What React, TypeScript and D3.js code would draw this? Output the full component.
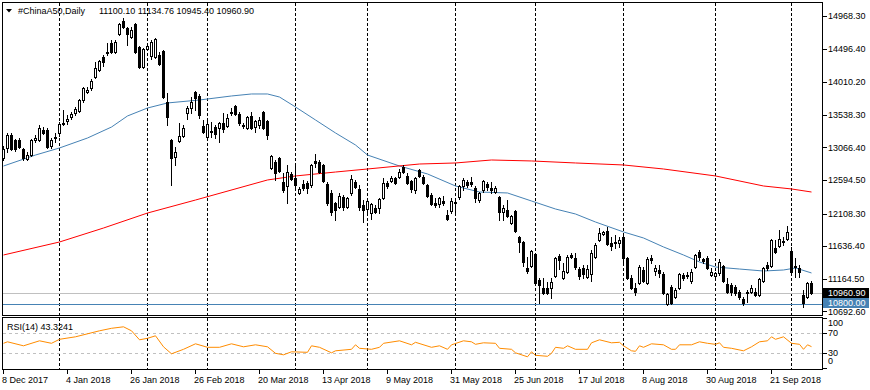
import React, { useEffect, useRef } from "react";
import * as d3 from "d3";

const WIDTH = 870;
const HEIGHT = 390;
const FONT = "'Liberation Sans', Arial, sans-serif";

const symbolTitle = "#ChinaA50,Daily";
const lastQuote = "11100.10 11134.76 10945.40 10960.90";
const rsiTitle = "RSI(14) 43.3241";

// daily bars: open, high, low, close
const candles: number[][] = [
  [12913, 13087, 12884, 13043], [13058, 13275, 13000, 13246], [13246, 13275, 13029, 13043], [13173, 13188, 13014, 13043],
  [13173, 13202, 13058, 13072], [13043, 13058, 12884, 12913], [12899, 13000, 12884, 12956], [12956, 13188, 12942, 13173],
  [13173, 13246, 13144, 13202], [13173, 13390, 13159, 13347], [13318, 13361, 13260, 13275], [13318, 13347, 13058, 13072],
  [13087, 13202, 13058, 13173], [13217, 13275, 13144, 13202], [13275, 13434, 13231, 13405], [13405, 13607, 13390, 13419],
  [13448, 13535, 13405, 13477], [13506, 13578, 13477, 13549], [13564, 13651, 13535, 13622], [13593, 13766, 13578, 13752],
  [13752, 13940, 13723, 13926], [13868, 13940, 13853, 13897], [13926, 14056, 13897, 14027], [14086, 14302, 14070, 14215],
  [14186, 14331, 14171, 14316], [14374, 14403, 14244, 14302], [14432, 14576, 14403, 14446], [14576, 14620, 14432, 14446],
  [14446, 14620, 14432, 14591], [14707, 14866, 14692, 14851], [14895, 14938, 14793, 14808], [14793, 14808, 14548, 14707],
  [14663, 14808, 14649, 14765], [14851, 14866, 14432, 14446], [14519, 14533, 14215, 14229], [14229, 14504, 14215, 14490],
  [14490, 14548, 14475, 14533], [14388, 14620, 14345, 14591], [14374, 14649, 14359, 14634], [14403, 14446, 14258, 14273],
  [14461, 14475, 13781, 13795], [13723, 13853, 13390, 13506], [13173, 13188, 12522, 12913], [12927, 13072, 12812, 13000],
  [13159, 13419, 13144, 13231], [13231, 13390, 13217, 13347], [13564, 13665, 13477, 13636], [13636, 13795, 13564, 13723],
  [13868, 13882, 13607, 13781], [13810, 13839, 13492, 13535], [13376, 13463, 13275, 13289], [13217, 13463, 13202, 13405],
  [13304, 13434, 13217, 13289], [13361, 13390, 13202, 13260], [13347, 13434, 13144, 13419], [13419, 13564, 13289, 13332],
  [13376, 13549, 13361, 13492], [13564, 13636, 13535, 13578], [13665, 13680, 13535, 13549], [13549, 13578, 13390, 13419],
  [13390, 13419, 13347, 13376], [13347, 13521, 13332, 13506], [13521, 13578, 13332, 13347], [13361, 13463, 13289, 13448],
  [13390, 13506, 13347, 13463], [13578, 13593, 13332, 13347], [13448, 13463, 13188, 13246], [12768, 12956, 12754, 12942],
  [12855, 12884, 12595, 12696], [12913, 12927, 12710, 12725], [12566, 12696, 12421, 12450], [12508, 12812, 12262, 12710],
  [12682, 12710, 12595, 12609], [12624, 12812, 12479, 12522], [12407, 12493, 12392, 12465], [12537, 12595, 12450, 12479],
  [12551, 12580, 12407, 12479], [12522, 12826, 12493, 12812], [12870, 12971, 12783, 12841], [12855, 12884, 12696, 12710],
  [12812, 12826, 12566, 12580], [12537, 12566, 12233, 12262], [12407, 12450, 12088, 12132], [12262, 12276, 12016, 12161],
  [12204, 12407, 12190, 12363], [12349, 12378, 12161, 12204], [12204, 12349, 12190, 12334], [12407, 12667, 12378, 12609],
  [12566, 12595, 12479, 12493], [12465, 12522, 12161, 12204], [12233, 12305, 11987, 12161], [12175, 12320, 12117, 12291],
  [12117, 12262, 12031, 12248], [12190, 12233, 12117, 12132], [12190, 12334, 12117, 12320], [12334, 12624, 12320, 12551],
  [12551, 12580, 12479, 12508], [12580, 12653, 12566, 12624], [12624, 12638, 12537, 12551], [12638, 12754, 12624, 12710],
  [12783, 12812, 12696, 12710], [12653, 12696, 12537, 12551], [12580, 12595, 12421, 12465], [12450, 12638, 12407, 12624],
  [12739, 12754, 12638, 12653], [12638, 12667, 12537, 12551], [12522, 12537, 12349, 12363], [12378, 12407, 12233, 12248],
  [12262, 12334, 12204, 12233], [12248, 12349, 12204, 12334], [12291, 12363, 12233, 12262], [12088, 12161, 12016, 12031],
  [12146, 12334, 12117, 12291], [12262, 12334, 12132, 12276], [12349, 12522, 12320, 12508], [12508, 12624, 12450, 12595],
  [12566, 12595, 12493, 12522], [12566, 12638, 12508, 12537], [12479, 12508, 12276, 12334], [12305, 12421, 12276, 12407],
  [12450, 12595, 12421, 12580], [12537, 12566, 12450, 12493], [12479, 12566, 12407, 12450], [12421, 12508, 12407, 12479],
  [12349, 12363, 12016, 12132], [12132, 12233, 12016, 12190], [12161, 12305, 12060, 12074], [11973, 12088, 11958, 12074],
  [12146, 12161, 11843, 11857], [11770, 11785, 11553, 11698], [11698, 11712, 11351, 11409], [11322, 11481, 11250, 11278],
  [11351, 11582, 11336, 11568], [11524, 11539, 11090, 11105], [11148, 11177, 10816, 11076], [11032, 11177, 10946, 10960],
  [11032, 11119, 10946, 10960], [11032, 11177, 10888, 11119], [11206, 11481, 11192, 11466], [11495, 11524, 11307, 11438],
  [11177, 11394, 11163, 11278], [11264, 11510, 11250, 11481], [11510, 11539, 11466, 11481], [11466, 11539, 11307, 11336],
  [11307, 11336, 11163, 11206], [11322, 11365, 11177, 11235], [11192, 11365, 11177, 11307], [11235, 11582, 11134, 11539],
  [11481, 11683, 11466, 11655], [11727, 11900, 11712, 11828], [11814, 11857, 11799, 11843], [11857, 11915, 11655, 11669],
  [11683, 11770, 11582, 11640], [11698, 11799, 11611, 11683], [11683, 11770, 11626, 11727], [11770, 11828, 11409, 11466],
  [11466, 11481, 11163, 11177], [11177, 11221, 11018, 11032], [11032, 11105, 10931, 10975], [11105, 11365, 11090, 11336],
  [11293, 11336, 11119, 11134], [11105, 11481, 11090, 11452], [11466, 11510, 11394, 11438], [11278, 11365, 11221, 11322],
  [11293, 11365, 11192, 11250], [11235, 11264, 10946, 10960], [10801, 10960, 10787, 10946], [11047, 11076, 10801, 10816],
  [10902, 11032, 10888, 11004], [11032, 11250, 11018, 11235], [11221, 11250, 11148, 11177], [11206, 11264, 11177, 11221],
  [11134, 11307, 11105, 11264], [11336, 11524, 11322, 11510], [11553, 11582, 11438, 11481], [11452, 11466, 11394, 11423],
  [11466, 11495, 11307, 11322], [11221, 11322, 11206, 11264], [11206, 11264, 11192, 11250], [11250, 11452, 11221, 11409],
  [11351, 11365, 11119, 11134], [11090, 11177, 10960, 10975], [11076, 11105, 10931, 10975], [11047, 11076, 10931, 10960],
  [10975, 11004, 10873, 10902], [10873, 10902, 10787, 10816], [10975, 11004, 10830, 10960], [10975, 11076, 10960, 11032],
  [10975, 11032, 10917, 10931], [10931, 11177, 10917, 11163], [11134, 11336, 11119, 11322], [11365, 11409, 11293, 11322],
  [11351, 11741, 11336, 11727], [11611, 11727, 11539, 11553], [11640, 11871, 11626, 11741], [11712, 11770, 11655, 11698],
  [11741, 11929, 11727, 11843], [11568, 11626, 11250, 11264], [11351, 11466, 11192, 11336], [11322, 11365, 11192, 11264],
  [10931, 11004, 10758, 10816], [10902, 11119, 10888, 11105], [11100.1, 11134.76, 10945.4, 10960.9],
];

// bottom time scale (bar index -> label)
const dateBars = [0, 16, 32, 48, 64, 80, 96, 112, 128, 144, 160, 176, 192];
const dateTexts = [
  "8 Dec 2017", "4 Jan 2018", "26 Jan 2018", "26 Feb 2018", "20 Mar 2018", "13 Apr 2018", "9 May 2018",
  "31 May 2018", "25 Jun 2018", "17 Jul 2018", "8 Aug 2018", "30 Aug 2018", "21 Sep 2018",
];
// first bar of each month (period separators)
const monthStartBars = [14, 36, 51, 73, 91, 113, 133, 155, 178, 197];

const priceTicks = [14968.3, 14496.4, 14010.2, 13538.3, 13066.4, 12594.5, 12108.3, 11636.4, 11164.5, 10692.6];
const bidPrice = 10960.9;
const levelPrice = 10800;

// moving averages, read at some bars
const maFastBars = [0, 8, 14, 21, 27, 31, 36, 41, 49, 57, 62, 66, 69, 73, 78, 83, 88, 91, 99, 106, 113, 119, 126, 132, 138, 143, 148, 155, 160, 165, 170, 174, 178, 184, 190, 195, 198, 202];
const maFastValues = [12797, 12956, 13058, 13202, 13361, 13521, 13636, 13709, 13752, 13810, 13839, 13839, 13795, 13651, 13463, 13275, 13101, 12956, 12797, 12682, 12508, 12421, 12407, 12291, 12175, 12103, 11987, 11843, 11756, 11626, 11510, 11409, 11336, 11307, 11278, 11293, 11322, 11250];
const maSlowBars = [0, 14, 25, 36, 48, 66, 73, 83, 91, 104, 113, 122, 132, 143, 155, 165, 178, 190, 197, 202];
const maSlowValues = [11510, 11698, 11900, 12117, 12305, 12595, 12653, 12710, 12754, 12826, 12841, 12884, 12870, 12841, 12812, 12754, 12653, 12508, 12465, 12421];

// RSI(14)
const rsiBars = [0, 1, 5, 9, 12, 14, 18, 24, 27, 30, 32, 34, 36, 38, 40, 42, 45, 48, 51, 54, 57, 60, 63, 66, 68, 70, 72, 76, 77, 79, 82, 83, 87, 88, 89, 92, 94, 95, 99, 102, 103, 107, 109, 111, 112, 115, 117, 118, 120, 123, 124, 127, 128, 131, 132, 133, 136, 137, 138, 140, 141, 143, 146, 147, 149, 152, 154, 155, 157, 158, 159, 160, 162, 165, 167, 168, 169, 172, 174, 176, 178, 179, 180, 182, 185, 187, 189, 191, 192, 193, 195, 197, 199, 200, 201, 202];
const rsiValues = [50, 53, 45, 55, 50, 58, 63, 75, 80, 83, 75, 57, 60, 65, 43, 29, 38, 49, 42, 42, 49, 43, 47, 43, 30, 27, 33, 32, 45, 42, 31, 35, 38, 47, 40, 38, 42, 50, 55, 47, 52, 42, 45, 38, 47, 55, 53, 48, 51, 50, 40, 38, 31, 23, 33, 26, 24, 30, 42, 40, 45, 38, 38, 51, 57, 51, 52, 45, 35, 34, 45, 42, 49, 47, 38, 38, 47, 47, 53, 50, 48, 51, 42, 40, 35, 43, 53, 55, 63, 58, 63, 50, 48, 38, 47, 43.32];
const rsiLevels = [70, 30];
const rsiTicks = [100, 70, 30, 0];

const LEFT = 2.5;
const RIGHT = 822.5;
const MAIN_TOP = 2.5;
const MAIN_BOTTOM = 315.5;
const RSI_TOP = 317.5;
const RSI_BOTTOM = 369.5;

export default function App() {
  const ref = useRef<SVGSVGElement>(null);

  useEffect(() => {
    const svg = d3.select(ref.current);
    svg.selectAll("*").remove();

    const x = d3.scaleLinear().domain([0, candles.length - 1]).range([3.5, 811.5]);
    const y = d3.scaleLinear().domain([10641.9, 15155]).range([315, 3]);
    const yr = d3.scaleLinear().domain([0, 100]).range([368.3, 318.3]);
    const px = (v: number) => Math.round(y(v));

    svg.append("rect").attr("width", WIDTH).attr("height", HEIGHT).attr("fill", "#fff");

    // month separators
    const sep = svg.append("g").attr("stroke", "#000").attr("stroke-dasharray", "3,2").attr("shape-rendering", "crispEdges");
    monthStartBars.forEach((b) => {
      sep.append("line").attr("x1", x(b)).attr("x2", x(b)).attr("y1", MAIN_TOP).attr("y2", MAIN_BOTTOM);
      sep.append("line").attr("x1", x(b)).attr("x2", x(b)).attr("y1", RSI_TOP).attr("y2", RSI_BOTTOM);
    });

    // bid and level lines
    svg.append("line").attr("x1", LEFT).attr("x2", RIGHT)
      .attr("y1", px(bidPrice) + 0.5).attr("y2", px(bidPrice) + 0.5)
      .attr("stroke", "#c0c0c0").attr("shape-rendering", "crispEdges");
    svg.append("line").attr("x1", LEFT).attr("x2", RIGHT)
      .attr("y1", px(levelPrice) + 0.5).attr("y2", px(levelPrice) + 0.5)
      .attr("stroke", "#4682b4").attr("shape-rendering", "crispEdges");

    // moving averages
    const maLine = d3.line<number>().x((d, i) => x(d)).y((d) => d);
    svg.append("path")
      .attr("d", d3.line<number>().x((b) => x(b)).y((b, i) => y(maFastValues[i]))(maFastBars))
      .attr("fill", "none").attr("stroke", "#4682b4").attr("stroke-width", 1);
    svg.append("path")
      .attr("d", d3.line<number>().x((b) => x(b)).y((b, i) => y(maSlowValues[i]))(maSlowBars))
      .attr("fill", "none").attr("stroke", "#ff0000").attr("stroke-width", 1);
    void maLine;

    // candles
    const cg = svg.append("g").attr("shape-rendering", "crispEdges");
    candles.forEach(([o, h, l, c], i) => {
      const cx = x(i);
      cg.append("line").attr("x1", cx).attr("x2", cx).attr("y1", px(h)).attr("y2", px(l) + 1).attr("stroke", "#000");
      const top = px(Math.max(o, c));
      const bot = px(Math.min(o, c));
      if (bot - top < 1) {
        cg.append("line").attr("x1", cx - 1.5).attr("x2", cx + 1.5).attr("y1", top + 0.5).attr("y2", top + 0.5).attr("stroke", "#000");
      } else if (c > o) {
        cg.append("rect").attr("x", cx - 1).attr("y", top + 0.5).attr("width", 2).attr("height", bot - top)
          .attr("fill", "#fff").attr("stroke", "#000");
      } else {
        cg.append("rect").attr("x", cx - 1.5).attr("y", top).attr("width", 3).attr("height", bot - top + 1).attr("fill", "#000");
      }
    });

    // RSI levels and line
    rsiLevels.forEach((v) => {
      svg.append("line").attr("x1", LEFT).attr("x2", RIGHT)
        .attr("y1", Math.round(yr(v)) + 0.5).attr("y2", Math.round(yr(v)) + 0.5)
        .attr("stroke", "#c0c0c0").attr("stroke-dasharray", "3,3").attr("shape-rendering", "crispEdges");
    });
    svg.append("path")
      .attr("d", d3.line<number>().x((b) => x(b)).y((b, i) => yr(rsiValues[i]))(rsiBars))
      .attr("fill", "none").attr("stroke", "#ff8c00").attr("stroke-width", 1);

    // frames
    const frames = svg.append("g").attr("fill", "none").attr("stroke", "#000").attr("shape-rendering", "crispEdges");
    frames.append("rect").attr("x", LEFT).attr("y", MAIN_TOP).attr("width", RIGHT - LEFT).attr("height", MAIN_BOTTOM - MAIN_TOP);
    frames.append("rect").attr("x", LEFT).attr("y", RSI_TOP).attr("width", RIGHT - LEFT).attr("height", RSI_BOTTOM - RSI_TOP);

    const text = svg.append("g").attr("font-family", FONT).attr("font-size", 9).attr("fill", "#000");

    // price axis
    priceTicks.forEach((v) => {
      const yy = Math.round(y(v)) + 0.5;
      svg.append("line").attr("x1", RIGHT).attr("x2", RIGHT + 4).attr("y1", yy).attr("y2", yy)
        .attr("stroke", "#000").attr("shape-rendering", "crispEdges");
      text.append("text").attr("x", 828).attr("y", y(v)).attr("dy", "0.35em").text(v.toFixed(2));
    });

    // price markers
    const markers = [
      { v: bidPrice, top: 288, fill: "#000" },
      { v: levelPrice, top: 298, fill: "#4682b4" },
    ];
    markers.forEach((m) => {
      svg.append("rect").attr("x", 823).attr("y", m.top).attr("width", 46).attr("height", 10).attr("fill", m.fill);
      svg.append("text").attr("x", 828).attr("y", m.top + 5).attr("dy", "0.35em")
        .attr("font-family", FONT).attr("font-size", 9).attr("fill", "#fff").text(m.v.toFixed(2));
    });

    // RSI axis
    rsiTicks.forEach((v) => {
      const yy = Math.min(Math.max(yr(v), RSI_TOP + 5.8), RSI_BOTTOM - 8.2);
      svg.append("line").attr("x1", RIGHT).attr("x2", RIGHT + 4)
        .attr("y1", Math.round(yr(v)) + 0.5).attr("y2", Math.round(yr(v)) + 0.5)
        .attr("stroke", "#000").attr("shape-rendering", "crispEdges");
      text.append("text").attr("x", 828).attr("y", yy).attr("dy", "0.35em").text(String(v));
    });

    // time axis
    dateBars.forEach((b, i) => {
      svg.append("line").attr("x1", x(b)).attr("x2", x(b)).attr("y1", RSI_BOTTOM).attr("y2", RSI_BOTTOM + 4)
        .attr("stroke", "#000").attr("shape-rendering", "crispEdges");
      text.append("text").attr("x", x(b) - 1.5).attr("y", 382.5).text(dateTexts[i]);
    });

    // titles
    svg.append("path").attr("d", "M6,9L12,9L9,12.5Z").attr("fill", "#000");
    text.append("text").attr("x", 18).attr("y", 13.5).text(symbolTitle);
    text.append("text").attr("x", 99).attr("y", 13.5).text(lastQuote);
    text.append("text").attr("x", 7).attr("y", 329.5).text(rsiTitle);
  }, []);

  return (
    <svg
      ref={ref}
      width={WIDTH}
      height={HEIGHT}
      style={{ position: "absolute", left: 0, top: 0, display: "block" }}
    />
  );
}
